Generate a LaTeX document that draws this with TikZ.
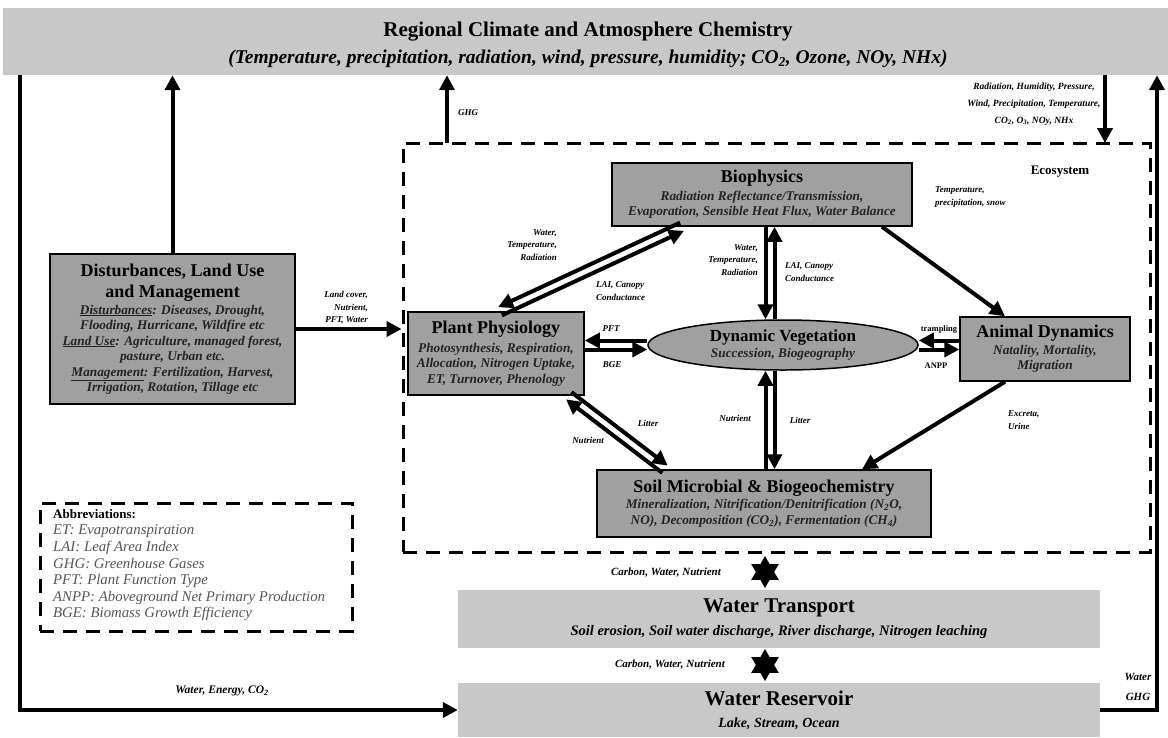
\documentclass[tikz,border=0pt]{standalone}
\usepackage{fontspec}
\setmainfont{Liberation Serif}
\usetikzlibrary{arrows.meta,shapes.geometric,calc}
\definecolor{bandgray}{RGB}{200,200,200}
\definecolor{boxgray}{RGB}{160,160,160}
\definecolor{txtdark}{RGB}{35,35,35}
\definecolor{abbrgray}{RGB}{85,85,85}
\newcommand{\fs}[2]{\fontsize{#1}{#2}\selectfont}
\begin{document}
\begin{tikzpicture}[x=1pt,y=-1pt,
  arr/.style={line width=4pt,-{Triangle[length=15pt,width=15pt]}},
  band/.style={fill=bandgray,draw=none,inner sep=0pt,align=center},
  gbox/.style={fill=boxgray,draw=black,line width=1.5pt,inner sep=0pt,align=center,
     font=\fs{13.3}{15.5}\bfseries\itshape\color{txtdark}},
  dashbox/.style={draw=black,line width=3pt,dash pattern=on 14pt off 9pt,inner sep=0pt},
  lab/.style={font=\fs{9}{12.5}\bfseries\itshape,inner sep=0pt,align=center},
  flow/.style={font=\fs{11}{13}\bfseries\itshape,inner sep=0pt,align=center},
  hexstar/.style={star,star points=6,star point ratio=1.75,minimum size=32pt,inner sep=0pt,fill=black}]
\useasboundingbox (0,0) rectangle (1168,737);

% ---------- big boxes ----------
\node[band,minimum width=1165pt,minimum height=67pt] (clim) at (585.5,41.5) {};
\node[inner sep=0pt,align=center,font=\fs{13}{27}] (climtxt) at (588,45)
  {{\fs{21}{25}\bfseries Regional Climate and Atmosphere Chemistry}\\
   {\fs{19.5}{25}\bfseries\itshape (Temperature, precipitation, radiation, wind, pressure, humidity; CO\textsubscript{2}, Ozone, NOy, NHx)}};

\node[dashbox,minimum width=747pt,minimum height=409pt] (eco) at (776.5,347.5) {};
\node[font=\fs{13}{15}\bfseries,inner sep=0pt] (ecolab) at (1060,172) {Ecosystem};

\node[gbox,minimum width=245pt,minimum height=150pt] (dist) at (172.5,329)
  {{\fs{18}{21}\upshape\color{black} Disturbances, Land Use}\\[6pt]
   {\fs{18}{21}\upshape\color{black} and Management}\\[1pt]
   \underline{Disturbances}: Diseases, Drought,\\
   Flooding, Hurricane, Wildfire etc\\
   \underline{Land Use}: Agriculture, managed forest,\\
   pasture, Urban etc.\\
   \underline{Management}: Fertilization, Harvest,\\
   Irrigation, Rotation, Tillage etc};

\node[gbox,minimum width=300pt,minimum height=63pt] (bio) at (762,194.5)
  {{\fs{18}{21}\upshape\color{black} Biophysics}\\[2pt]
   Radiation Reflectance/Transmission,\\
   Evaporation, Sensible Heat Flux, Water Balance};

\node[gbox,minimum width=176pt,minimum height=83pt] (plant) at (496,353.5)
  {{\fs{18}{21}\upshape\color{black} Plant Physiology}\\[3pt]
   Photosynthesis, Respiration,\\
   Allocation, Nitrogen Uptake,\\
   ET, Turnover, Phenology};

\node[gbox,ellipse,minimum width=270pt,minimum height=50pt] (veg) at (783,345)
  {{\fs{17}{19}\upshape\color{black} Dynamic Vegetation}\\
   Succession, Biogeography};

\node[gbox,minimum width=170pt,minimum height=64pt] (animal) at (1045,349)
  {{\fs{18}{21}\upshape\color{black} Animal Dynamics}\\[1pt]
   Natality, Mortality,\\
   Migration};

\node[gbox,minimum width=334pt,minimum height=67pt] (soil) at (764,503.5)
  {{\fs{18}{21}\upshape\color{black} Soil Microbial \& Biogeochemistry}\\[1pt]
   Mineralization, Nitrification/Denitrification (N\textsubscript{2}O,\\
   NO), Decomposition (CO\textsubscript{2}), Fermentation (CH\textsubscript{4})};

\node[band,minimum width=642pt,minimum height=58pt,font=\fs{13}{23}] (trans) at (779,619)
  {{\fs{21}{25}\bfseries Water Transport}\\
   {\fs{14.5}{17}\bfseries\itshape Soil erosion, Soil water discharge, River discharge, Nitrogen leaching}};

\node[band,minimum width=642pt,minimum height=54pt,font=\fs{13}{22}] (res) at (779,710)
  {{\fs{21}{25}\bfseries Water Reservoir}\\
   {\fs{14}{17}\bfseries\itshape Lake, Stream, Ocean}};

\node[dashbox,minimum width=312pt,minimum height=128pt] (abbr) at (196,567) {};
\node[anchor=north west,inner sep=0pt,align=left,font=\fs{14.8}{16.6}\itshape\color{abbrgray}] (abbrtext) at (53,509)
  {{\fs{13}{16.6}\bfseries\upshape\color{black}Abbreviations:}\\
   ET: Evapotranspiration\\
   LAI: Leaf Area Index\\
   GHG: Greenhouse Gases\\
   PFT: Plant Function Type\\
   ANPP: Aboveground Net Primary Production\\
   BGE: Biomass Growth Efficiency};

% ---------- outer connectors ----------
\coordinate (lx) at (20,75);
\coordinate (rx) at (1157,75);
\coordinate (g) at (447,143);
\coordinate (d) at (1105,143);
\draw[arr] (dist.north) -- (dist.north |- clim.south);
\draw[arr] (clim.south -| lx) |- (res.west);
\draw[arr] (res.east) -| (rx |- clim.south);
\draw[arr] (g) -- (g |- clim.south);
\draw[arr] (d |- clim.south) -- (d);
\draw[arr] (dist.east) -- (dist.east -| eco.west);

\node[lab,anchor=west] (ghglab) at (458,113) {GHG};
\node[lab,font=\fs{9.5}{17}\bfseries\itshape] (climlab) at (1034,104)
  {Radiation, Humidity, Pressure,\\Wind, Precipitation, Temperature,\\CO\textsubscript{2}, O\textsubscript{3}, NOy, NHx};
\node[lab,align=right,anchor=east] (lclab) at (368,308) {Land cover,\\Nutrient,\\PFT, Water};
\node[flow,font=\fs{11.5}{13}\bfseries\itshape] (welab) at (222,691) {Water, Energy, CO\textsubscript{2}};
\node[flow,font=\fs{11}{20}\bfseries\itshape] (wglab) at (1138,687) {Water\\GHG};

% ---------- bottom exchange stars ----------
\node[hexstar] (s1) at (765,572) {};
\node[hexstar] (s2) at (765,665) {};
\node[flow] (cwn1) at (666,573) {Carbon, Water, Nutrient};
\node[flow] (cwn2) at (670,665) {Carbon, Water, Nutrient};

% ---------- ecosystem internal connectors ----------
% biophysics <-> plant physiology
\coordinate (A) at ([xshift=-80pt]bio.south);
\coordinate (B) at ([xshift=4pt]plant.north);
\draw[arr] ($(A)!4.5pt!-90:(B)$) -- ($(B)!4.5pt!90:(A)$);
\draw[arr] ($(B)!4.5pt!-90:(A)$) -- ($(A)!4.5pt!90:(B)$);
\node[lab,align=right,anchor=east] (l1) at (557,245) {Water,\\Temperature,\\Radiation};
\node[lab,align=left,anchor=west] (l2) at (596,291) {LAI, Canopy\\Conductance};

% biophysics <-> dynamic vegetation
\coordinate (vt) at ([xshift=8pt]bio.south);
\draw[arr] ([xshift=-4.5pt]vt) -- ([xshift=-4.5pt]vt |- veg.north);
\draw[arr] ([xshift=4.5pt]vt |- veg.north) -- ([xshift=4.5pt]vt);
\node[lab,align=right,anchor=east] (l3) at (758,260) {Water,\\Temperature,\\Radiation};
\node[lab,align=left,anchor=west] (l4) at (785,272) {LAI, Canopy\\Conductance};

% biophysics -> animal
\draw[arr] ([xshift=120pt]bio.south) -- ([xshift=-40pt]animal.north);
\node[lab,align=left,anchor=west] (l5) at (935,197) {Temperature,\\precipitation, snow};

% plant <-> vegetation
\draw[arr] ([yshift=4.5pt]veg.west) -- ([yshift=4.5pt]veg.west -| plant.east);
\draw[arr] ([yshift=-4.5pt]veg.west -| plant.east) -- ([yshift=-4.5pt]veg.west);
\node[lab] (pft) at (611,329) {PFT};
\node[lab] (bge) at (612,365) {BGE};

% vegetation <-> animal
\draw[arr] ([yshift=4.5pt]veg.east -| animal.west) -- ([yshift=4.5pt]veg.east);
\draw[arr] ([yshift=-4.5pt]veg.east) -- ([yshift=-4.5pt]veg.east -| animal.west);
\node[lab,font=\fs{8.5}{11}\bfseries] (tramp) at (939,329) {trampling};
\node[lab,font=\fs{8.5}{11}\bfseries] (anpp) at (936,366) {ANPP};

% plant <-> soil
\coordinate (C) at ([xshift=-16pt]plant.south east);
\coordinate (D) at ([xshift=-99pt]soil.north);
\draw[arr] ($(C)!4.5pt!90:(D)$) -- ($(D)!4.5pt!-90:(C)$);
\draw[arr] ($(D)!4.5pt!90:(C)$) -- ($(C)!4.5pt!-90:(D)$);
\node[lab] (lit1) at (648,423) {Litter};
\node[lab] (nut1) at (588,440) {Nutrient};

% vegetation <-> soil
\coordinate (vb) at ([xshift=-13pt]veg.south);
\draw[arr] ([xshift=-4.5pt]vb |- soil.north) -- ([xshift=-4.5pt]vb);
\draw[arr] ([xshift=4.5pt]vb) -- ([xshift=4.5pt]vb |- soil.north);
\node[lab] (nut2) at (735,418) {Nutrient};
\node[lab] (lit2) at (800,420) {Litter};

% animal -> soil
\draw[arr] ([xshift=-40pt]animal.south) -- ([xshift=98pt]soil.north);
\node[lab,align=left,anchor=west] (l6) at (1008,420) {Excreta,\\Urine};
\end{tikzpicture}
\end{document}
